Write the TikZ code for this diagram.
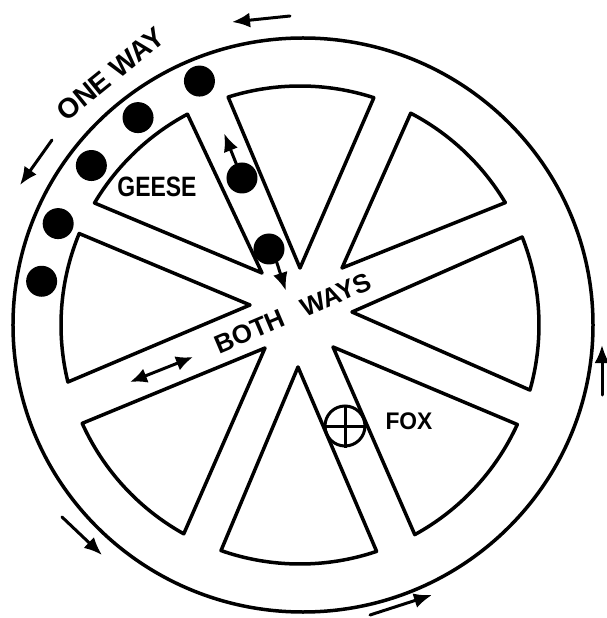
\documentclass[tikz,border=0pt]{standalone}
\usepackage{fontspec}
\setmainfont{Liberation Sans}
\usetikzlibrary{arrows.meta}

\begin{document}
\begin{tikzpicture}[x=1pt,y=1pt,
  ink/.style={line width=3.5pt,line join=round,line cap=round},
  goose/.style={circle,fill=black,minimum size=31pt,inner sep=0pt},
  lbl/.style={font=\fontsize{#1}{#1}\selectfont\bfseries},
  flow/.style={line width=3pt,line cap=round,-{Latex[length=18pt,width=15pt]}},
  twoway/.style={line width=3pt,line cap=round,{Latex[length=17pt,width=15pt]}-{Latex[length=17pt,width=15pt]}}]
  \path[use as bounding box] (-303,-293) rectangle (303,325);

  % Outer rim
  \draw[ink] (0,0) circle[x radius=290,y radius=287];

  % Eight sectors, the spokes are the gaps between them
  \begin{scope}[shift={(-3,0)}]
    \foreach \px/\py/\a/\b in {0/57/72/107.5, 42/57/30.8/62.4, 52/13/-15.8/21.6,
        33/-22/-61.3/-24.6, -2/-42/-109.3/-71.3, -35/-23/-155.7/-119.1,
        -50/20/157.5/193.8, -38/52/118.1/149.3}
      \draw[ink] (\px,\py) -- (\a:239) arc[start angle=\a,end angle=\b,radius=239] -- cycle;
  \end{scope}

  % Geese on the rim and in the spoke
  \foreach \ang [count=\i] in {113,128.5,143,157.5,170.5}
    \node[goose] (ring\i) at (\ang:265) {};
  \node[goose] (spoke1) at (-61,147) {};
  \node[goose] (spoke2) at (-34,76) {};
  \draw[flow] (spoke1.112) -- ++(-12,30);
  \draw[flow] (spoke2.-60) -- ++(9,-28);

  % Fox
  \node[circle,draw,line width=3pt,minimum size=40pt,inner sep=0pt] (foxmark) at (42,-101) {};
  \draw[line width=3pt] (foxmark.north) -- (foxmark.south) (foxmark.west) -- (foxmark.east);

  % Labels
  \node[lbl=28,rotate=39] (oneway) at (127.5:316) {ONE WAY};
  \node[lbl=28] (geese) at (-146,138) {\addfontfeature{FakeStretch=0.82}GEESE};
  \node[lbl=26,rotate=23] (bothways) at (-10,12) {BOTH\hspace{20pt}WAYS};
  \node[lbl=24] (fox) at (106,-96) {\addfontfeature{FakeStretch=0.95}FOX};

  % Direction round the rim
  \draw[flow] (-13,309) -- (-71,303);
  \draw[flow] (-251,185) -- (-283,140);
  \draw[flow] (-241,-192) -- (-201,-230);
  \draw[flow] (67,-290) -- (129,-270);
  \draw[flow] (299,-70) -- (299,-20);
  \draw[twoway] (-173,-57) -- (-110,-32);
\end{tikzpicture}
\end{document}
